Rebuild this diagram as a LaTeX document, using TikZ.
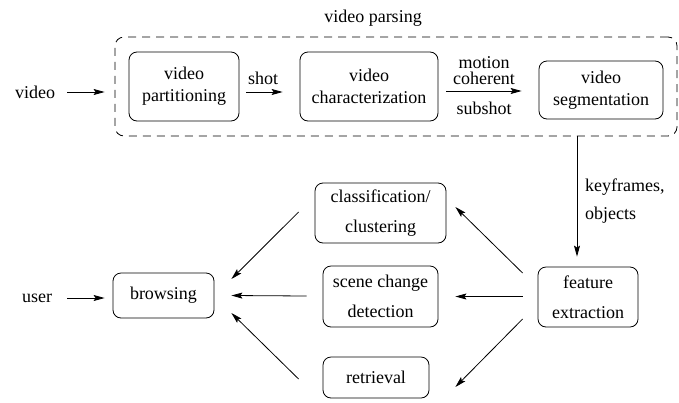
\documentclass[tikz,border=0pt]{standalone}
\usepackage{fontspec}
\setmainfont{Liberation Serif}
\usetikzlibrary{arrows.meta}
\begin{document}
\begin{tikzpicture}[x=1pt,y=-1pt,
  every node/.style={font=\fontsize{18}{22}\selectfont},
  blk/.style={draw, line width=0.8pt, rounded corners=8pt, align=center, inner sep=0pt},
  lbl/.style={inner sep=0pt, align=center},
  arr/.style={line width=0.8pt, -{Stealth[length=11pt,width=6pt,inset=2pt]}}]
\useasboundingbox (0,0) rectangle (679,402);
% dashed parsing frame
\node[draw, dash pattern=on 8pt off 6pt, line width=0.8pt, rounded corners=9pt,
  minimum width=562pt, minimum height=99pt, inner sep=0pt] (frame) at (396,86.5) {};
\node[lbl] (ptitle) at (373,18) {video parsing};
% boxes
\node[blk, minimum width=110pt, minimum height=69pt] (part) at (184,86.5) {video\\partitioning};
\node[blk, minimum width=138pt, minimum height=69pt] (char) at (369,86.5) {video\\characterization};
\node[blk, minimum width=124pt, minimum height=58pt] (seg) at (601,90) {video\\segmentation};
\node[blk, minimum width=100pt, minimum height=60pt,
  font=\fontsize{18}{30}\selectfont] (feat) at (588,297) {feature\\extraction};
\node[blk, minimum width=131pt, minimum height=60pt,
  font=\fontsize{18}{30}\selectfont] (clas) at (380.5,213) {classification/\\clustering};
\node[blk, minimum width=115pt, minimum height=61pt,
  font=\fontsize{18}{30}\selectfont] (scene) at (380.5,296.5) {scene change\\detection};
\node[blk, minimum width=106pt, minimum height=41pt] (retr) at (376,377.5) {retrieval};
\node[blk, minimum width=101pt, minimum height=45pt] (brows) at (163.5,295.5) {browsing};
% labels
\node[lbl] (vid) at (35,92) {video};
\node[lbl] (usr) at (37,298) {user};
\node[lbl] (shot) at (263,78) {shot};
\node[lbl, font=\fontsize{18}{16}\selectfont] (motion) at (484,71) {motion\\coherent};
\node[lbl] (subshot) at (484,108) {subshot};
\node[lbl, anchor=west, align=left, font=\fontsize{18}{28}\selectfont] (kf) at (585,201) {keyframes,\\objects};
% top arrows
\draw[arr] ([xshift=32pt]vid.center) -- ([xshift=-10pt]vid.center -| frame.west);
\draw[arr] ([xshift=7pt,yshift=-5.5pt]part.east) -- ([xshift=-17pt,yshift=-5.5pt]char.west);
\draw[arr] ([xshift=8pt,yshift=-4.5pt]char.east) -- ([xshift=-17pt,yshift=-4.5pt]char.east -| seg.west);
\coordinate (vtip) at ([xshift=-11pt,yshift=10pt]feat.north);
\draw[arr] (vtip |- frame.south) -- (vtip);
% lower arrows
\draw[arr] ([xshift=-15pt,yshift=24pt]feat.west) -- ([xshift=9pt,yshift=6pt]clas.east);
\draw[arr] ([xshift=-15pt,yshift=0.5pt]feat.west) -- ([xshift=17pt,yshift=0pt]scene.east);
\draw[arr] ([xshift=-15pt,yshift=-22pt]feat.west) -- ([xshift=26pt,yshift=-9.5pt]retr.east);
\draw[arr] ([xshift=-16pt,yshift=1pt]clas.west) -- ([xshift=17pt,yshift=16.5pt]brows.east);
\draw[arr] ([xshift=-16pt,yshift=0.5pt]scene.west) -- ([xshift=17pt,yshift=0pt]brows.east);
\draw[arr] ([xshift=-24pt,yshift=-1.5pt]retr.west) -- ([xshift=17pt,yshift=-17.5pt]brows.east);
\draw[arr] ([xshift=30pt]usr.center) -- ([xshift=-8pt]usr.center -| brows.west);
\end{tikzpicture}
\end{document}
